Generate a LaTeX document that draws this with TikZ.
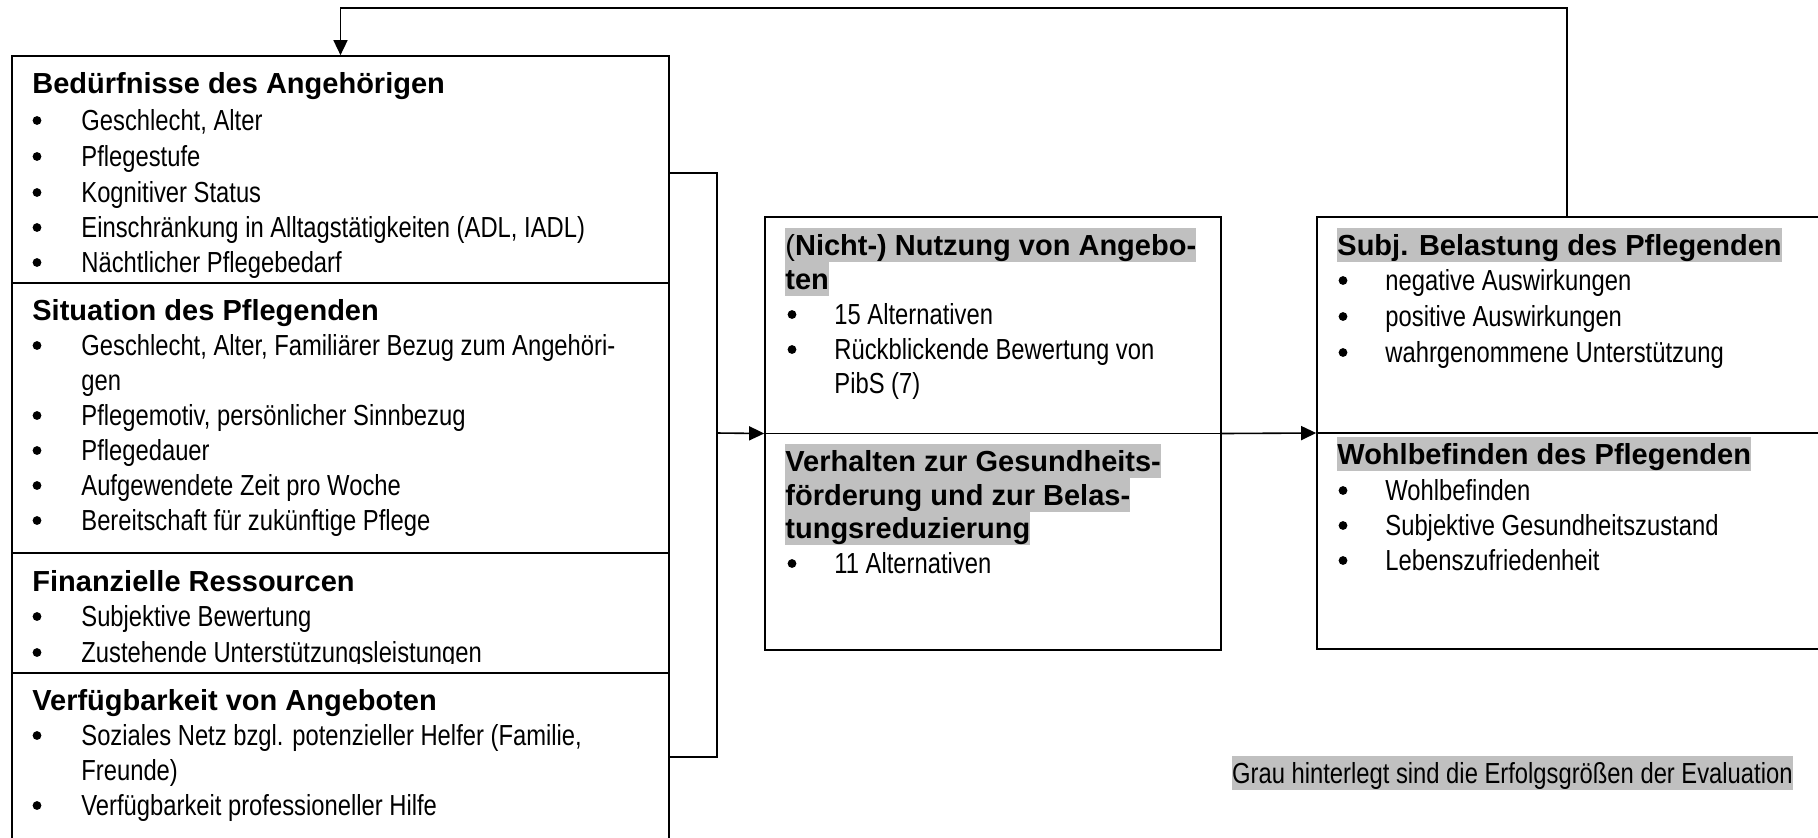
\documentclass[tikz,border=0pt]{standalone}
\usepackage{fontspec}
\setmainfont{Liberation Sans}
\newfontfamily\nar{Liberation Sans}[FakeStretch=0.82]
\usetikzlibrary{arrows.meta,fit}
\definecolor{hlgray}{HTML}{C0C0C0}
\tikzset{
  txt/.style={anchor=base west,inner sep=0pt,font=\nar\fontsize{14.5}{17}\selectfont},
  hd/.style={anchor=base west,inner sep=0pt,font=\bfseries\fontsize{14.5}{17}\selectfont},
  hl/.style={hd,fill=hlgray,text height=13.5pt,text depth=3.5pt},
  bul/.style={circle,fill=black,inner sep=0pt,minimum size=4.4pt},
  boxframe/.style={draw=black,line width=0.85pt,inner sep=0pt},
  conn/.style={draw=black,line width=0.8pt},
  arr/.style={conn,-{Triangle[length=7.5pt,width=7pt]}}
}
\newcommand\bitem[5]{%
  \node[bul] (#1b) at (#2,#4-9.5) {};
  \node[txt] (#1) at (#3,#4) {#5};}
\begin{document}
\begin{tikzpicture}[x=0.5pt,y=-0.5pt]
\useasboundingbox (0,0) rectangle (1818,837);

% ---- left box texts
\node[hd] (h1) at (32,93) {Bedürfnisse des Angehörigen};
\bitem{a1}{37}{81}{130}{Geschlecht, Alter}
\bitem{a2}{37}{81}{166}{Pflegestufe}
\bitem{a3}{37}{81}{202}{Kognitiver Status}
\bitem{a4}{37}{81}{237}{Einschränkung in Alltagstätigkeiten (ADL, IADL)}
\bitem{a5}{37}{81}{272}{Nächtlicher Pflegebedarf}

\node[hd] (h2) at (32,320) {Situation des Pflegenden};
\bitem{b1}{37}{81}{355}{Geschlecht, Alter, Familiärer Bezug zum Angehöri-}
\node[txt] (b1c) at (81,390) {gen};
\bitem{b2}{37}{81}{425}{Pflegemotiv, persönlicher Sinnbezug}
\bitem{b3}{37}{81}{460}{Pflegedauer}
\bitem{b4}{37}{81}{495}{Aufgewendete Zeit pro Woche}
\bitem{b5}{37}{81}{530}{Bereitschaft für zukünftige Pflege}

\begin{scope}
\clip (12,553) rectangle (669,663);
\node[hd] (h3) at (32,591) {Finanzielle Ressourcen};
\bitem{c1}{37}{81}{626}{Subjektive Bewertung}
\bitem{c2}{37}{81}{662}{Zustehende Unterstützungsleistungen}
\end{scope}

\node[hd] (h4) at (32,710) {Verfügbarkeit von Angeboten};
\bitem{d1}{37}{81}{745}{Soziales Netz bzgl. potenzieller Helfer (Familie,}
\node[txt] (d1c) at (81,780) {Freunde)};
\bitem{d2}{37}{81}{815}{Verfügbarkeit professioneller Hilfe}

% ---- middle box texts
\node[hl] (m1) at (785,255) {{\mdseries(}Nicht-) Nutzung von Angebo-};
\node[hl] (m1c) at (785,289) {ten};
\bitem{e1}{792}{834}{324}{15 Alternativen}
\bitem{e2}{792}{834}{359}{Rückblickende Bewertung von}
\node[txt] (e2c) at (834,393) {PibS (7)};
\node[hl] (m2) at (785,471) {Verhalten zur Gesundheits-};
\node[hl] (m2b) at (785,505) {förderung und zur Belas-};
\node[hl] (m2c) at (785,538) {tungsreduzierung};
\bitem{f1}{792}{834}{573}{11 Alternativen}

% ---- right box texts
\node[hl] (r1) at (1337,255) {Subj. Belastung des Pflegenden};
\bitem{g1}{1343}{1385}{290}{negative Auswirkungen}
\bitem{g2}{1343}{1385}{326}{positive Auswirkungen}
\bitem{g3}{1343}{1385}{362}{wahrgenommene Unterstützung}
\node[hl] (r2) at (1337,464) {Wohlbefinden des Pflegenden};
\bitem{k1}{1343}{1385}{500}{Wohlbefinden}
\bitem{k2}{1343}{1385}{535}{Subjektive Gesundheitszustand}
\bitem{k3}{1343}{1385}{570}{Lebenszufriedenheit}

% ---- footnote
\node[txt,anchor=base east,fill=hlgray,text height=13.5pt,text depth=3.5pt] (note) at (1793,783)
  {Grau hinterlegt sind die Erfolgsgrößen der Evaluation};

% ---- boxes
\node[boxframe,fit={(12,56) (669,870)}] (left) {};
\node[boxframe,fit={(765,217) (1221,650)}] (mid) {};
\node[boxframe,fit={(1317,217) (1850,649)}] (right) {};
\coordinate (l1) at (12,283);   \coordinate (l1e) at (669,283);
\coordinate (l2) at (12,553);   \coordinate (l2e) at (669,553);
\coordinate (l3) at (12,673);   \coordinate (l3e) at (669,673);
\draw[boxframe] (l1) -- (l1e);
\draw[boxframe] (l2) -- (l2e);
\draw[boxframe] (l3) -- (l3e);

% ---- connectors
\coordinate (bt) at (669,173);
\coordinate (bb) at (669,757);
\coordinate (bj) at (717,433);
\coordinate (fb) at (1567,217);
\coordinate (fbtop) at (1567,8);
\draw[conn] (bt) -| (bj) |- (bb);
\draw[arr] (bj) -- (mid.west);
\draw[conn] (mid.west) -- (mid.east);
\draw[arr] (mid.east) -- (right.west);
\draw[conn] (right.west) -- (right.east);
\draw[arr] (fb) -- (fbtop) -| (left.north);
\end{tikzpicture}
\end{document}
